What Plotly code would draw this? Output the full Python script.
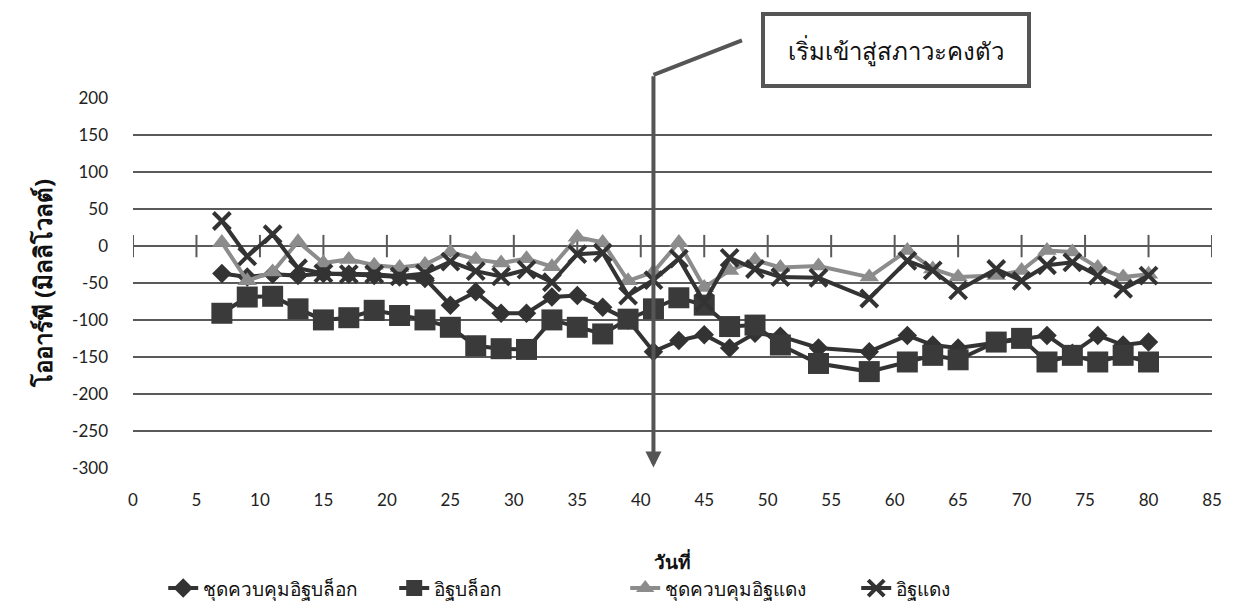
import plotly.graph_objects as go

# วันที่เก็บตัวอย่าง
days = [7, 9, 11, 13, 15, 17, 19, 21, 23, 25, 27, 29, 31, 33, 35, 37, 39, 41,
        43, 45, 47, 49, 51, 54, 58, 61, 63, 65, 68, 70, 72, 74, 76, 78, 80]

# ค่า ORP (มิลลิโวลต์) ของแต่ละชุดการทดลอง
control_block = [-37, -42, -38, -40, -37, -38, -40, -42, -44, -80, -62, -91, -91, -69, -67, -83, -100, -143,
                 -128, -120, -138, -118, -122, -138, -143, -121, -134, -138, -130, -126, -121, -145, -121, -134, -130]
block = [-91, -69, -68, -85, -100, -97, -87, -94, -100, -110, -135, -139, -140, -100, -110, -119, -99, -85,
         -70, -80, -109, -107, -134, -159, -170, -157, -148, -154, -130, -125, -157, -148, -157, -148, -157]
control_brick = [5, -47, -35, 6, -23, -18, -26, -29, -25, -8, -18, -23, -17, -28, 12, 5, -47, -35,
                 5, -56, -33, -19, -29, -27, -42, -6, -31, -42, -40, -33, -6, -8, -29, -42, -38]
brick = [34, -14, 16, -30, -37, -38, -38, -41, -37, -21, -34, -41, -32, -49, -11, -9, -67, -46,
         -17, -76, -16, -31, -42, -43, -71, -20, -33, -60, -31, -47, -26, -22, -40, -58, -40]

x_ticks = list(range(0, 86, 5))
y_ticks = list(range(-300, 201, 50))
y_ticktext = [str(v) for v in y_ticks]
x_range = [0, 85]
y_range = [-300.6, 200.6]
steady_day = 41
callout_top = 232  # where the callout leader bends, in mV

DARK = "#333333"
GRAY = "#8c8c8c"
GRID = "#5a5a5a"
LEADER = "#555555"
THAI = "Noto Sans, DejaVu Sans, sans-serif"
NUM = "Lato, Open Sans, sans-serif"

fig = go.Figure()

# tick marks crossing the zero line
fig.add_trace(go.Scatter(
    x=x_ticks, y=[0] * len(x_ticks), mode="markers",
    marker=dict(symbol="line-ns-open", size=16, color=GRID, line=dict(color=GRID, width=2)),
    showlegend=False, hoverinfo="skip"))

fig.add_trace(go.Scatter(
    x=days, y=control_block, name="ชุดควบคุมอิฐบล็อก", mode="lines+markers",
    line=dict(color=DARK, width=4),
    marker=dict(symbol="diamond", size=15, color=DARK)))
fig.add_trace(go.Scatter(
    x=days, y=block, name="อิฐบล็อก", mode="lines+markers",
    line=dict(color=DARK, width=4),
    marker=dict(symbol="square", size=21, color="#3a3a3a")))
fig.add_trace(go.Scatter(
    x=days, y=control_brick, name="ชุดควบคุมอิฐแดง", mode="lines+markers",
    line=dict(color=GRAY, width=4),
    marker=dict(symbol="triangle-up", size=17, color=GRAY)))
fig.add_trace(go.Scatter(
    x=days, y=brick, name="อิฐแดง", mode="lines+markers",
    line=dict(color=DARK, width=4),
    marker=dict(symbol="x-thin-open", size=17, color=DARK, line=dict(color=DARK, width=4))))

# arrow marking the start of the steady state
fig.add_annotation(x=steady_day, y=-300, xref="x", yref="y",
                   ax=steady_day, ay=callout_top, axref="x", ayref="y",
                   text="", showarrow=True, arrowhead=2, arrowsize=0.8,
                   arrowwidth=4, arrowcolor=LEADER)
# slanted leader from the bend up to the callout box
bend_x = (steady_day - x_range[0]) / (x_range[1] - x_range[0])
bend_y = (callout_top - y_range[0]) / (y_range[1] - y_range[0])
fig.add_annotation(x=bend_x, y=bend_y, xref="paper", yref="paper",
                   ax=90, ay=-35, text="", showarrow=True, arrowhead=0,
                   arrowwidth=4, arrowcolor=LEADER)
fig.add_annotation(x=0.707, y=1.13, xref="paper", yref="paper",
                   xanchor="center", yanchor="middle",
                   text="เริ่มเข้าสู่สภาวะคงตัว", showarrow=False,
                   font=dict(family=THAI, size=24, color="#111111"),
                   width=262, height=68, borderwidth=4, borderpad=0,
                   bordercolor=LEADER, bgcolor="white")

# x-axis title
fig.add_annotation(x=0.5, y=-0.255, xref="paper", yref="paper",
                   xanchor="center", yanchor="middle", showarrow=False,
                   text="<b>วันที่</b>",
                   font=dict(family=THAI, size=19, color="#111111"))

fig.update_layout(
    width=1241, height=613,
    margin=dict(l=133, r=29, t=98, b=145, autoexpand=False),
    paper_bgcolor="white", plot_bgcolor="white",
    font=dict(family=NUM, size=17, color="#222222"),
    showlegend=True,
    legend=dict(orientation="h", x=0.028, xanchor="left", y=-0.325, yanchor="middle",
                font=dict(family=THAI, size=19, color="#111111"),
                entrywidth=186, entrywidthmode="pixels", tracegroupgap=0),
    xaxis=dict(range=x_range, tickvals=x_ticks, showgrid=False, zeroline=False,
               showline=False, ticks="", ticklabelstandoff=20,
               tickfont=dict(family=NUM, size=17)),
    yaxis=dict(range=y_range, tickvals=y_ticks, ticktext=y_ticktext, showgrid=True,
               gridcolor=GRID, gridwidth=2, zeroline=True, zerolinecolor=GRID,
               zerolinewidth=2, showline=False, ticks="", ticklabelstandoff=24,
               tickfont=dict(family=NUM, size=17),
               title=dict(text="<b>โออาร์พี (มิลลิโวลต์)</b>", standoff=12,
                          font=dict(family=THAI, size=24, color="#111111"))),
)

fig.write_html("out.html")
